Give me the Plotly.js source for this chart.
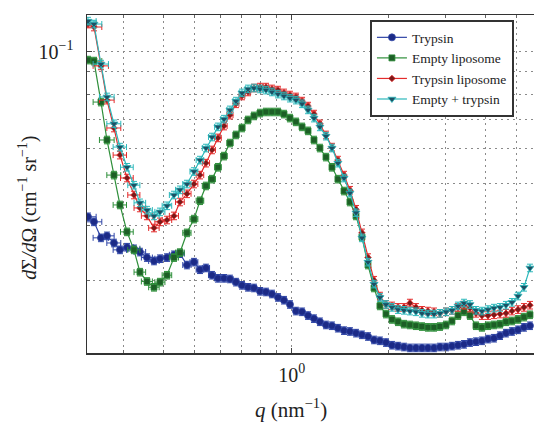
<!DOCTYPE html>
<html><head><meta charset="utf-8">
<script src="https://cdn.plot.ly/plotly-3.0.1.min.js"></script>
<style>html,body{margin:0;padding:0;background:#fff}#chart{width:534px;height:422px}</style>
</head><body><div id="chart"></div>
<script>
const q = [0.2330, 0.2432, 0.2557, 0.2669, 0.2806, 0.2929, 0.3080, 0.3237, 0.3379, 0.3553, 0.3736, 0.3899, 0.4100, 0.4310, 0.4498, 0.4729, 0.4972, 0.5191,
  0.5418, 0.5656, 0.5903, 0.6163, 0.6433, 0.6715, 0.7010, 0.7317, 0.7638, 0.7974,
  0.8323, 0.8686, 0.9067, 0.9465, 0.9879, 1.031, 1.077, 1.124, 1.173, 1.224,
  1.278, 1.334, 1.392, 1.454, 1.517, 1.584, 1.653, 1.726, 1.802, 1.880,
  1.963, 2.049, 2.139, 2.233, 2.330, 2.432, 2.539, 2.650, 2.767, 2.888,
  3.015, 3.147, 3.285, 3.429, 3.579, 3.736, 3.899, 4.071, 4.249, 4.436,
  4.630, 4.833, 5.045, 5.266, 5.497];

const trypsin = [0.0419, 0.0408, 0.0375, 0.0379, 0.0365, 0.0352, 0.0357, 0.0354, 0.0348, 0.0338, 0.0332, 0.0336, 0.0338, 0.0343, 0.0345, 0.0325, 0.0330, 0.0317,
  0.0320, 0.0308, 0.0303, 0.0303, 0.0302, 0.0297, 0.0292, 0.0289, 0.0288, 0.0283,
  0.0282, 0.0279, 0.0274, 0.0270, 0.0264, 0.0255, 0.0254, 0.0249, 0.0245, 0.0241,
  0.0237, 0.0236, 0.0233, 0.0230, 0.0229, 0.0227, 0.0225, 0.0223, 0.0219, 0.0218,
  0.0216, 0.0213, 0.0212, 0.0211, 0.0210, 0.0210, 0.0210, 0.0210, 0.0210, 0.0211,
  0.0211, 0.0212, 0.0213, 0.0214, 0.0216, 0.0217, 0.0218, 0.0220, 0.0221, 0.0224,
  0.0227, 0.0229, 0.0231, 0.0234, 0.0236];

const emptyLiposome = [0.0957, 0.0952, 0.0767, 0.0628, 0.0522, 0.0446, 0.0387, 0.0352, 0.0313, 0.0298, 0.0289, 0.0297, 0.0308, 0.0338, 0.0347, 0.0385, 0.0414, 0.0456,
  0.0493, 0.0511, 0.0544, 0.0577, 0.0618, 0.0645, 0.0669, 0.0698, 0.0713, 0.0724,
  0.0728, 0.0728, 0.0728, 0.0720, 0.0705, 0.0691, 0.0673, 0.0659, 0.0628, 0.0602,
  0.0574, 0.0544, 0.0511, 0.0480, 0.0453, 0.0421, 0.0377, 0.0325, 0.0288, 0.0262,
  0.0251, 0.0244, 0.0241, 0.0238, 0.0237, 0.0236, 0.0235, 0.0234, 0.0234, 0.0235,
  0.0237, 0.0242, 0.0249, 0.0254, 0.0249, 0.0236, 0.0234, 0.0236, 0.0237, 0.0238,
  0.0241, 0.0242, 0.0244, 0.0247, 0.0250];

const trypsinLiposome = [0.1157, 0.1139, 0.0928, 0.0775, 0.0669, 0.0580, 0.0514, 0.0470, 0.0439, 0.0421, 0.0395, 0.0408, 0.0412, 0.0421, 0.0453, 0.0473, 0.0498, 0.0522,
  0.0556, 0.0596, 0.0635, 0.0676, 0.0716, 0.0760, 0.0792, 0.0809, 0.0826, 0.0830,
  0.0830, 0.0822, 0.0817, 0.0805, 0.0796, 0.0788, 0.0771, 0.0751, 0.0720, 0.0684,
  0.0645, 0.0605, 0.0565, 0.0522, 0.0482, 0.0436, 0.0385, 0.0338, 0.0300, 0.0276,
  0.0264, 0.0262, 0.0260, 0.0260, 0.0266, 0.0260, 0.0256, 0.0255, 0.0254, 0.0252,
  0.0254, 0.0256, 0.0260, 0.0263, 0.0259, 0.0252, 0.0249, 0.0249, 0.0250, 0.0251,
  0.0252, 0.0255, 0.0257, 0.0260, 0.0263];

const emptyPlusTrypsin = [0.1175, 0.1157, 0.0937, 0.0788, 0.0684, 0.0605, 0.0544, 0.0495, 0.0451, 0.0434, 0.0421, 0.0430, 0.0444, 0.0470, 0.0483, 0.0498, 0.0532, 0.0565,
  0.0602, 0.0638, 0.0673, 0.0701, 0.0736, 0.0771, 0.0805, 0.0822, 0.0826, 0.0822,
  0.0817, 0.0809, 0.0800, 0.0792, 0.0783, 0.0775, 0.0760, 0.0736, 0.0705, 0.0673,
  0.0641, 0.0602, 0.0556, 0.0514, 0.0475, 0.0428, 0.0375, 0.0330, 0.0294, 0.0274,
  0.0264, 0.0260, 0.0257, 0.0256, 0.0255, 0.0254, 0.0252, 0.0251, 0.0251, 0.0252,
  0.0254, 0.0256, 0.0262, 0.0266, 0.0264, 0.0256, 0.0255, 0.0257, 0.0259, 0.0260,
  0.0263, 0.0267, 0.0276, 0.0289, 0.0320];

const seriesNames = ['Trypsin', 'Empty liposome', 'Trypsin liposome', 'Empty + trypsin'];
const qError = 0.014;
const intensityErrorPercent = 2;

const xMajorTicks = [1];
const xMajorText = ['10<sup>0</sup>'];
const xMinorTicks = [0.3, 0.4, 0.5, 0.6, 0.7, 0.8, 0.9, 2, 3, 4, 5];
const yMajorTicks = [0.1];
const yMajorText = ['10<sup>\u22121</sup>'];
const yMinorTicks = [0.03, 0.04, 0.05, 0.06, 0.07, 0.08, 0.09];
const xTitle = '<i>q</i> (nm<sup>\u22121</sup>)';
const yTitle = '<i>d</i>\u03A3<i>/d</i>\u03A9 (cm<sup>\u22121</sup> sr<sup>\u22121</sup>)';

const seriesValues = [trypsin, emptyLiposome, trypsinLiposome, emptyPlusTrypsin];
const styles = [
  {line: '#2f45a6', fill: '#1c2a86', symbol: 'circle', size: 7},
  {line: '#2e8f3a', fill: '#1d5e26', symbol: 'square', size: 6},
  {line: '#e42b2b', fill: '#7a1a1a', symbol: 'diamond', size: 5},
  {line: '#2cb8bb', fill: '#1d4f63', symbol: 'triangle-down', size: 7}
];

const traces = seriesValues.map((vals, i) => ({
  x: q, y: vals, name: seriesNames[i], type: 'scatter', mode: 'lines+markers',
  line: {color: styles[i].line, width: 1.2},
  marker: {symbol: styles[i].symbol, size: styles[i].size, color: styles[i].fill,
           line: {color: styles[i].line, width: 0.8}},
  error_x: {type: 'constant', value: qError, color: styles[i].line, thickness: 1, width: 3},
  error_y: {type: 'percent', value: intensityErrorPercent, color: styles[i].line, thickness: 1, width: 3}
}));

const serif = 'Liberation Serif, Times New Roman, serif';
const gridStyle = {showgrid: true, gridcolor: '#8a8a8a', gridwidth: 1, griddash: '2px,4px'};

const layout = {
  width: 534, height: 422,
  margin: {l: 87, r: 0, t: 15, b: 69, pad: 0},
  paper_bgcolor: '#fff', plot_bgcolor: '#fff',
  showlegend: true,
  font: {family: serif, color: '#222'},
  xaxis: Object.assign({
    type: 'log', range: [-0.6357, 0.7526],
    tickmode: 'array', tickvals: xMajorTicks, ticktext: xMajorText,
    ticks: 'inside', ticklen: 5, tickcolor: '#444',
    minor: Object.assign({tickmode: 'array', tickvals: xMinorTicks, ticks: 'inside', ticklen: 3, tickcolor: '#666'}, gridStyle),
    showline: true, linecolor: '#333', linewidth: 1.5, mirror: 'ticks',
    zeroline: false, ticklabelstandoff: 3,
    tickfont: {family: serif, size: 20, color: '#222'}
  }, gridStyle),
  yaxis: Object.assign({
    type: 'log', range: [-1.6895, -0.916],
    tickmode: 'array', tickvals: yMajorTicks, ticktext: yMajorText,
    ticks: 'inside', ticklen: 5, tickcolor: '#444',
    minor: Object.assign({tickmode: 'array', tickvals: yMinorTicks, ticks: 'inside', ticklen: 3, tickcolor: '#666'}, gridStyle),
    showline: true, linecolor: '#333', linewidth: 1.5, mirror: false,
    zeroline: false, ticklabelstandoff: 8,
    tickfont: {family: serif, size: 20, color: '#222'}
  }, gridStyle),
  annotations: [
    {text: xTitle, xref: 'paper', yref: 'paper', x: 0.456, y: -0.163, xanchor: 'center', yanchor: 'middle',
     showarrow: false, font: {family: serif, size: 21, color: '#222'}},
    {text: yTitle, xref: 'paper', yref: 'paper', x: -0.132, y: 0.43, xanchor: 'center', yanchor: 'middle',
     textangle: -90, showarrow: false, font: {family: serif, size: 20, color: '#222'}}
  ],
  legend: {
    x: 0.633, y: 0.985, xanchor: 'left', yanchor: 'top',
    bgcolor: '#fff', bordercolor: '#333', borderwidth: 2,
    font: {family: serif, size: 13.5, color: '#222'},
    tracegroupgap: 0, itemwidth: 30, entrywidth: 122, entrywidthmode: 'pixels'
  }
};

Plotly.newPlot('chart', traces, layout, {staticPlot: true, displayModeBar: false});
</script>
</body></html>
